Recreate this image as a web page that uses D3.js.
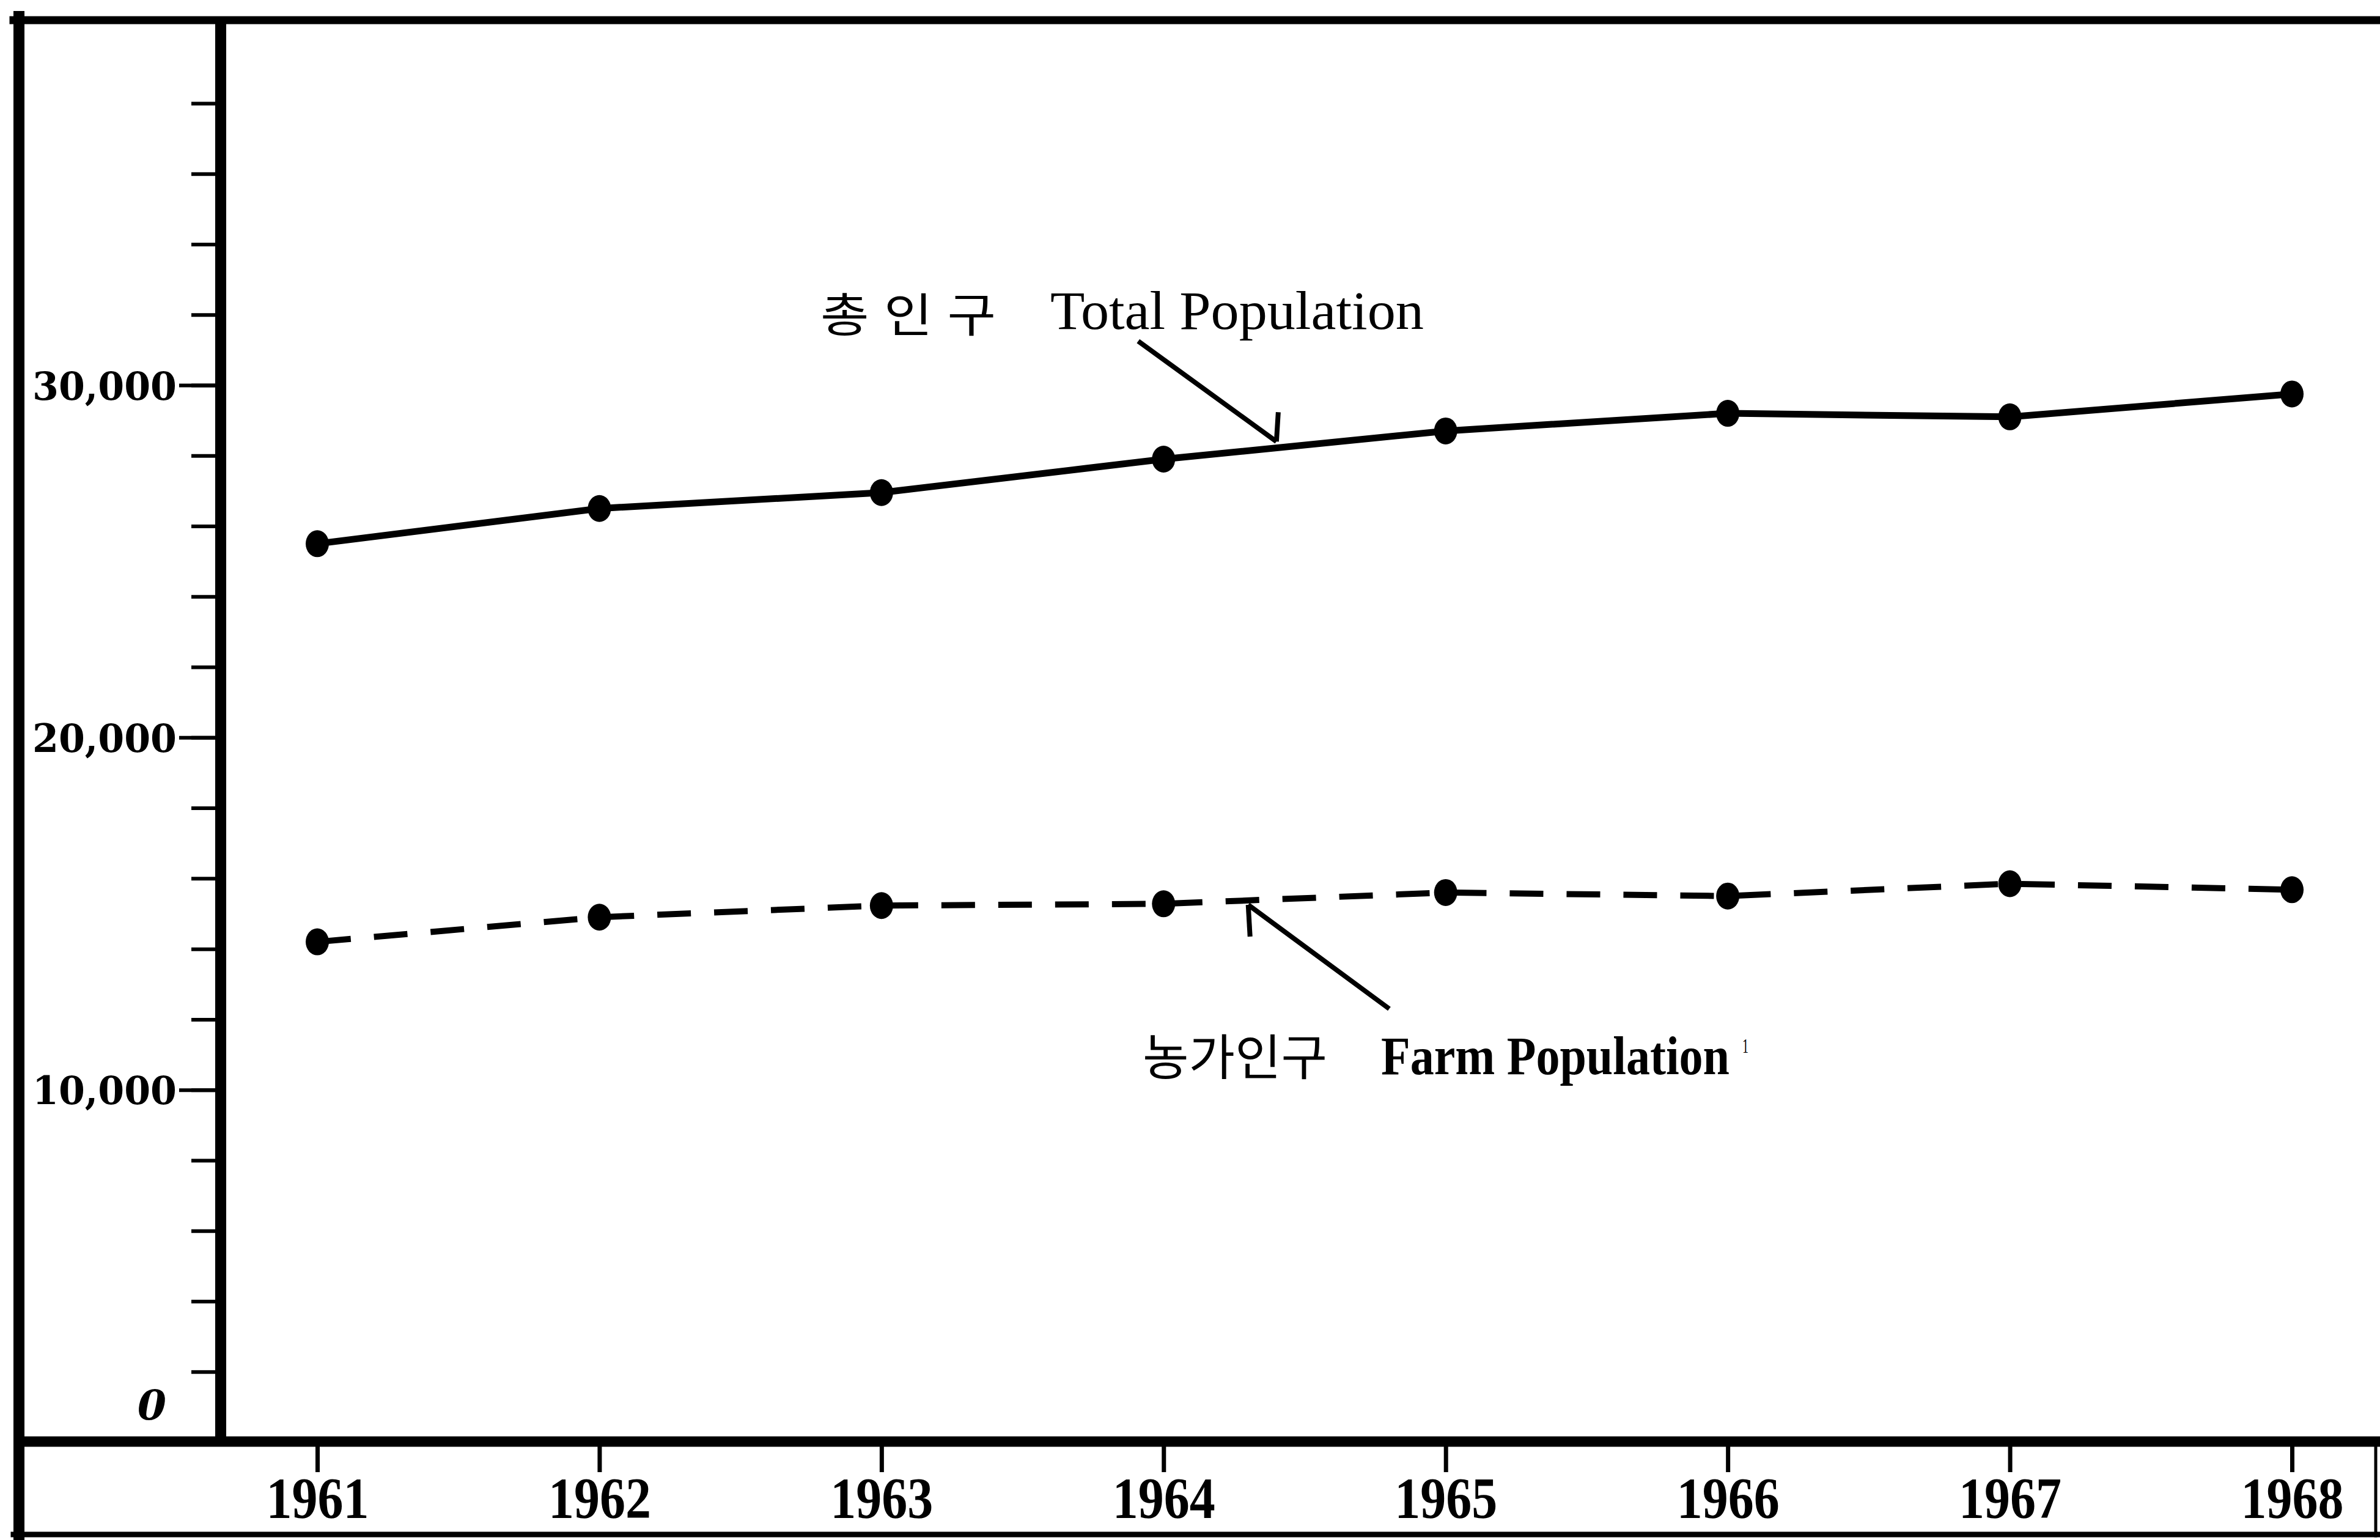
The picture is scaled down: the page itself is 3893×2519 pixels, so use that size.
<!DOCTYPE html>
<html lang="ko">
<head>
<meta charset="UTF-8">
<title>총인구 / 농가인구 1961-1968</title>
<style>
  body { margin: 0; background: #fff; }
  svg { display: block; }
</style>
</head>
<body>
<svg id="chart" width="3893" height="2519"></svg>

<script src="https://d3js.org/d3.v7.min.js"></script>
<script>
// --- data (thousand persons) ---
const years = [1961, 1962, 1963, 1964, 1965, 1966, 1967, 1968];
const totalPop = [25500, 26500, 26950, 27900, 28700, 29200, 29100, 29750];
const farmPop = [14200, 14900, 15230, 15280, 15600, 15500, 15850, 15680];

const yLabelTicks = [10000, 20000, 30000];
const yMinorTicks = d3.range(2000, 40000, 2000);

const svg = d3.select("#chart");

const x = d3.scaleLinear().domain([1961, 1968]).range([519, 3749]);
const y = d3.scaleLinear().domain([0, 30000]).range([2359, 630]);

const axisX = 353;     // inner y axis
const baseY = 2358;    // x axis line

// --- outer frame ---
const frame = svg.append("g").attr("stroke", "#000").attr("stroke-linecap", "square");
frame.append("line").attr("x1", 22).attr("x2", 3893).attr("y1", 33).attr("y2", 33).attr("stroke-width", 13);
frame.append("line").attr("x1", 31).attr("x2", 31).attr("y1", 27).attr("y2", 2519).attr("stroke-width", 18);
frame.append("line").attr("x1", 22).attr("x2", 3893).attr("y1", 2510).attr("y2", 2510).attr("stroke-width", 9);
frame.append("line").attr("x1", 3886).attr("x2", 3886).attr("y1", baseY).attr("y2", 2512).attr("stroke-width", 5);

// --- y axis: minor ticks ---
svg.append("g")
    .attr("transform", `translate(${axisX},0)`)
    .call(d3.axisLeft(y).tickValues(yMinorTicks).tickSize(40).tickFormat(""))
    .call(g => g.select(".domain").remove())
    .call(g => g.selectAll("line").attr("stroke", "#000").attr("stroke-width", 6));

// --- y axis: labelled ticks ---
svg.append("g")
    .attr("transform", `translate(${axisX},0)`)
    .call(d3.axisLeft(y).tickValues(yLabelTicks).tickSize(60).tickPadding(4).tickFormat(d3.format(",")))
    .call(g => g.select(".domain").remove())
    .call(g => g.selectAll("line").attr("stroke", "#000").attr("stroke-width", 6))
    .call(g => g.selectAll("text")
        .attr("fill", "#000")
        .attr("font-family", "'DejaVu Serif', serif")
        .attr("font-weight", "bold")
        .attr("font-size", 64)
        .attr("dy", "0.36em")
        .attr("textLength", 236)
        .attr("lengthAdjust", "spacingAndGlyphs"));

// zero label sits above the base line
svg.append("text")
    .attr("x", 272).attr("y", 2322)
    .attr("text-anchor", "end")
    .attr("font-family", "'DejaVu Serif', serif")
    .attr("font-weight", "bold")
    .attr("font-style", "italic")
    .attr("font-size", 68)
    .text(y.tickFormat()(0));

// --- x axis ---
svg.append("g")
    .attr("transform", `translate(0,${baseY})`)
    .call(d3.axisBottom(x).tickValues(years).tickSize(50).tickFormat(d3.format("d")))
    .call(g => g.select(".domain").remove())
    .call(g => g.selectAll("line").attr("stroke", "#000").attr("stroke-width", 7))
    .call(g => g.selectAll("text")
        .attr("fill", "#000")
        .attr("y", 125).attr("dy", 0)
        .attr("font-family", "'Liberation Serif', serif")
        .attr("font-weight", "bold")
        .attr("font-size", 96)
        .attr("textLength", 168)
        .attr("lengthAdjust", "spacingAndGlyphs"));

// axis lines on top of tick roots
svg.append("line").attr("x1", 22).attr("x2", 3893).attr("y1", baseY).attr("y2", baseY)
    .attr("stroke", "#000").attr("stroke-width", 17);
svg.append("line").attr("x1", axisX + 8).attr("x2", axisX + 8).attr("y1", 33).attr("y2", baseY)
    .attr("stroke", "#000").attr("stroke-width", 18);

// --- series ---
const line = d3.line().x(d => x(d[0])).y(d => y(d[1]));
const totalData = years.map((yr, i) => [yr, totalPop[i]]);
const farmData = years.map((yr, i) => [yr, farmPop[i]]);

svg.append("path").datum(totalData)
    .attr("d", line).attr("fill", "none")
    .attr("stroke", "#000").attr("stroke-width", 11);

svg.append("path").datum(farmData)
    .attr("d", line).attr("fill", "none")
    .attr("stroke", "#000").attr("stroke-width", 10)
    .attr("stroke-dasharray", "55,38");

[totalData, farmData].forEach(series => {
    svg.append("g").selectAll("ellipse")
        .data(series)
        .join("ellipse")
        .attr("cx", d => x(d[0]))
        .attr("cy", d => y(d[1]))
        .attr("rx", 19).attr("ry", 22)
        .attr("fill", "#000");
});

// --- annotations (arrow from label to curve, in data units) ---
const arrows = [
    { from: [1963.91, 31250], to: [1964.40, 28400], barb: -48 },
    { from: [1964.80, 12300], to: [1964.30, 15250], barb: 52 }
];
arrows.forEach(a => {
    const g = svg.append("g").attr("stroke", "#000").attr("stroke-width", 8).attr("fill", "none");
    g.append("line")
        .attr("x1", x(a.from[0])).attr("y1", y(a.from[1]))
        .attr("x2", x(a.to[0])).attr("y2", y(a.to[1]));
    g.append("line")
        .attr("x1", x(a.to[0])).attr("y1", y(a.to[1]))
        .attr("x2", x(a.to[0]) + 3).attr("y2", y(a.to[1]) + a.barb);
});

// labels are squeezed horizontally to the width they have in the scan
function label(xp, yp, txt, opts) {
    const t = svg.append("text")
        .attr("font-family", opts.family)
        .attr("font-weight", opts.weight || "normal")
        .attr("font-size", opts.size)
        .text(txt);
    const w = t.node().getComputedTextLength();
    t.attr("transform", `translate(${xp},${yp}) scale(${opts.len / w},1)`);
}

const kr = "'Noto Sans CJK KR', sans-serif";
const serif = "'Liberation Serif', serif";

label(1342, 543, "총 인 구", { family: kr, size: 76, len: 287 });
label(1718, 538, "Total Population", { family: serif, size: 88, len: 611 });

label(1869, 1758, "농가인구", { family: kr, size: 80, len: 302 });
label(2259, 1757, "Farm Population", { family: serif, weight: "bold", size: 88, len: 570 });
label(2850, 1722, "1", { family: serif, size: 34, len: 10 });
</script>
</body>
</html>
